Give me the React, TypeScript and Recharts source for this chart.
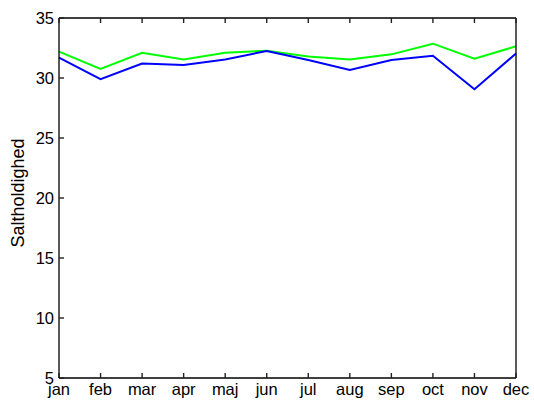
import React from 'react';
import { LineChart, Line, XAxis, YAxis, Label } from 'recharts';

const months = ['jan', 'feb', 'mar', 'apr', 'maj', 'jun', 'jul', 'aug', 'sep', 'oct', 'nov', 'dec'];
const greenSeries = [32.2, 30.75, 32.1, 31.55, 32.1, 32.28, 31.8, 31.55, 31.97, 32.86, 31.6, 32.64];
const blueSeries = [31.7, 29.9, 31.2, 31.08, 31.55, 32.25, 31.5, 30.67, 31.5, 31.86, 29.06, 32.05];
const yTicks = [5, 10, 15, 20, 25, 30, 35];

const data = months.map((m, i) => ({ month: m, green: greenSeries[i], blue: blueSeries[i] }));

const FONT = '"Liberation Sans", Arial, Helvetica, sans-serif';
const TICK_LEN = 5;
const TICK_W = 1.4;
const TICK_COLOR = '#222';

const BottomTick = (props: any) => {
  const { x, y, payload } = props;
  return (
    <g>
      <line x1={x} x2={x} y1={y} y2={y - TICK_LEN} stroke={TICK_COLOR} strokeWidth={TICK_W} />
      <text x={x} y={y + 17} textAnchor="middle" fontFamily={FONT} fontSize={16.5} fill="#000">
        {payload.value}
      </text>
    </g>
  );
};

const TopTick = (props: any) => {
  const { x, y } = props;
  return <line x1={x} x2={x} y1={y} y2={y + TICK_LEN} stroke={TICK_COLOR} strokeWidth={TICK_W} />;
};

const LeftTick = (props: any) => {
  const { x, y, payload } = props;
  return (
    <g>
      <line x1={x} x2={x + TICK_LEN} y1={y} y2={y} stroke={TICK_COLOR} strokeWidth={TICK_W} />
      <text x={x - 5} y={y + 6} textAnchor="end" fontFamily={FONT} fontSize={16.5} fill="#000">
        {payload.value}
      </text>
    </g>
  );
};

const RightTick = (props: any) => {
  const { x, y } = props;
  return <line x1={x} x2={x - TICK_LEN} y1={y} y2={y} stroke={TICK_COLOR} strokeWidth={TICK_W} />;
};

const YLabel = (props: any) => {
  const vb = props.viewBox || { x: 0, y: 18, width: 59, height: 360 };
  const cx = vb.x + 18;
  const cy = vb.y + vb.height / 2 - 5;
  return (
    <text
      x={cx}
      y={cy}
      transform={`rotate(-90, ${cx}, ${cy})`}
      textAnchor="middle"
      dominantBaseline="central"
      fontFamily={FONT}
      fontSize={18}
      fill="#000"
    >
      Saltholdighed
    </text>
  );
};

export default function App() {
  return (
    <div style={{ position: 'absolute', left: 0, top: 0, width: 534, height: 407, background: '#fff' }}>
      <LineChart width={534} height={407} data={data} margin={{ top: 17, right: 17, bottom: 0, left: 0 }}>
        <XAxis
          xAxisId="bottom"
          dataKey="month"
          orientation="bottom"
          height={29}
          interval={0}
          tickSize={0}
          tickMargin={0}
          tick={<BottomTick />}
          tickLine={false}
          axisLine={{ stroke: '#000', strokeWidth: 1.3 }}
        />
        <XAxis
          xAxisId="top"
          dataKey="month"
          orientation="top"
          height={1}
          interval={0}
          tickSize={0}
          tickMargin={0}
          tick={<TopTick />}
          tickLine={false}
          axisLine={{ stroke: '#000', strokeWidth: 1.3 }}
        />
        <YAxis
          yAxisId="left"
          orientation="left"
          width={59}
          domain={[5, 35]}
          ticks={yTicks}
          interval={0}
          tickSize={0}
          tickMargin={0}
          tick={<LeftTick />}
          tickLine={false}
          axisLine={{ stroke: '#000', strokeWidth: 1.3 }}
        >
          <Label content={<YLabel />} />
        </YAxis>
        <YAxis
          yAxisId="right"
          orientation="right"
          width={1}
          domain={[5, 35]}
          ticks={yTicks}
          interval={0}
          tickSize={0}
          tickMargin={0}
          tick={<RightTick />}
          tickLine={false}
          axisLine={{ stroke: '#000', strokeWidth: 1.3 }}
        />
        <Line
          xAxisId="bottom"
          yAxisId="left"
          type="linear"
          dataKey="green"
          stroke="#00ff00"
          strokeWidth={2}
          dot={false}
          isAnimationActive={false}
        />
        <Line
          xAxisId="bottom"
          yAxisId="left"
          type="linear"
          dataKey="blue"
          stroke="#0000ff"
          strokeWidth={2}
          dot={false}
          isAnimationActive={false}
        />
      </LineChart>
    </div>
  );
}
